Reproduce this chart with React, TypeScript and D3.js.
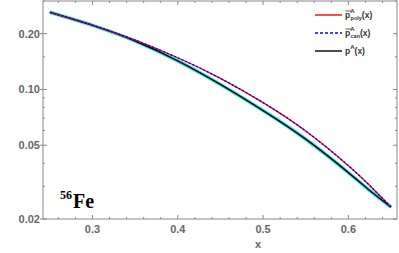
import React from "react";
import * as d3 from "d3";

const xs = [0.25, 0.3, 0.35, 0.4, 0.45, 0.5, 0.55, 0.6, 0.625, 0.65];
const pPoly = [0.2607, 0.2224, 0.1844, 0.1482, 0.1147, 0.0849, 0.0596, 0.0388, 0.0303, 0.0232];
const pCan = [0.2607, 0.2224, 0.1844, 0.1482, 0.1147, 0.0849, 0.0596, 0.0388, 0.0303, 0.0232];
const pA = [0.2607, 0.2216, 0.1826, 0.1427, 0.1064, 0.0769, 0.0539, 0.0356, 0.0285, 0.0232];

const xMajor = [0.3, 0.4, 0.5, 0.6];
const xMinor = [0.26, 0.28, 0.32, 0.34, 0.36, 0.38, 0.42, 0.44, 0.46, 0.48, 0.52, 0.54, 0.56, 0.58, 0.62, 0.64];
const yMajor = [0.02, 0.05, 0.1, 0.2];
const yMajorLabels = ["0.02", "0.05", "0.10", "0.20"];
const yMinor = [0.03, 0.04, 0.06, 0.07, 0.08, 0.09, 0.15, 0.3];

const W = 399, H = 253;
const L = 43, R = 397, T = 1, B = 219;

export default function App() {
  const x = d3.scaleLinear().domain([0.242, 0.657]).range([L, R]);
  const y = d3.scaleLog().domain([0.02, 0.3]).range([B, T]);
  const line = (vals: number[]) =>
    d3.line<number>().x((_, i) => x(xs[i])).y((d) => y(d)).curve(d3.curveNatural)(vals) || "";
  const axisCol = "#888";
  const labCol = "#666";
  const tickFont = "'Liberation Sans', Arial, sans-serif";
  return (
    <svg width={W} height={H} style={{ position: "absolute", left: 0, top: 0, background: "#fff" }}>
      <defs>
        <clipPath id="plot">
          <rect x={L} y={T} width={R - L} height={B - T} />
        </clipPath>
      </defs>
      <g clipPath="url(#plot)" fill="none">
        <path d={line(pA)} stroke="#33e6e6" strokeWidth={3.6} />
        <path d={line(pA)} stroke="#000" strokeWidth={1.5} />
        <path d={line(pPoly)} stroke="#ff0000" strokeWidth={1.3} />
        <path d={line(pCan)} stroke="#0000ff" strokeWidth={1.3} strokeDasharray="2,2" />
      </g>
      <rect x={L} y={T} width={R - L} height={B - T} fill="none" stroke={axisCol} strokeWidth={1} />
      {xMajor.map((v) => (
        <g key={"xM" + v}>
          <line x1={x(v)} x2={x(v)} y1={B} y2={B - 4} stroke={axisCol} />
          <line x1={x(v)} x2={x(v)} y1={T} y2={T + 4} stroke={axisCol} />
          <text x={x(v)} y={232.5} textAnchor="middle" fontFamily={tickFont} fontWeight="bold" fontSize={11} fill={labCol}>
            {v.toFixed(1)}
          </text>
        </g>
      ))}
      {xMinor.map((v) => (
        <g key={"xm" + v}>
          <line x1={x(v)} x2={x(v)} y1={B} y2={B - 2} stroke={axisCol} />
          <line x1={x(v)} x2={x(v)} y1={T} y2={T + 2} stroke={axisCol} />
        </g>
      ))}
      {yMajor.map((v, i) => (
        <g key={"yM" + v}>
          <line x1={L - 3} x2={L + 4} y1={y(v)} y2={y(v)} stroke={axisCol} />
          <line x1={R} x2={R - 4} y1={y(v)} y2={y(v)} stroke={axisCol} />
          <text x={L - 3} y={y(v) + 4} textAnchor="end" fontFamily={tickFont} fontWeight="bold" fontSize={11} fill={labCol}>
            {yMajorLabels[i]}
          </text>
        </g>
      ))}
      {yMinor.map((v) => (
        <g key={"ym" + v}>
          <line x1={L} x2={L + 2} y1={y(v)} y2={y(v)} stroke={axisCol} />
          <line x1={R} x2={R - 2} y1={y(v)} y2={y(v)} stroke={axisCol} />
        </g>
      ))}
      <text x={(L + R) / 2 + 38} y={248} textAnchor="middle" fontFamily={tickFont} fontWeight="bold" fontSize={11} fill={labCol}>
        x
      </text>
      <text x={60} y={199} fontFamily="'Liberation Serif', 'Times New Roman', serif" fontWeight="bold" fontSize={12} fill="#000">
        56
      </text>
      <text x={73} y={208} fontFamily="'Liberation Serif', 'Times New Roman', serif" fontWeight="bold" fontSize={20} fill="#000">
        Fe
      </text>
      {[
        { c: "#ff0000", dash: "", sub: "poly", bar: true },
        { c: "#0000ff", dash: "3,2", sub: "can", bar: true },
        { c: "#000", dash: "", sub: "", bar: false },
      ].map((e, i) => {
        const ly = 15 + i * 18;
        return (
          <g key={"lg" + i}>
            <line x1={315} x2={342} y1={ly} y2={ly} stroke={e.c} strokeWidth={1.4} strokeDasharray={e.dash} />
            {e.bar && <line x1={345.5} x2={351} y1={ly - 4} y2={ly - 4} stroke="#333" strokeWidth={0.8} />}
            <text x={345} y={ly + 3} fontFamily={tickFont} fontWeight="bold" fontSize={8.5} fill="#333">
              p
              <tspan dy={-5} fontSize={6}>A</tspan>
              {e.sub ? (
                <>
                  <tspan dx={-4} dy={7} fontSize={5.5}>{e.sub}</tspan>
                  <tspan dy={-2} fontSize={8.5}>(x)</tspan>
                </>
              ) : (
                <tspan dy={5} fontSize={8.5}>(x)</tspan>
              )}
            </text>
          </g>
        );
      })}
    </svg>
  );
}
